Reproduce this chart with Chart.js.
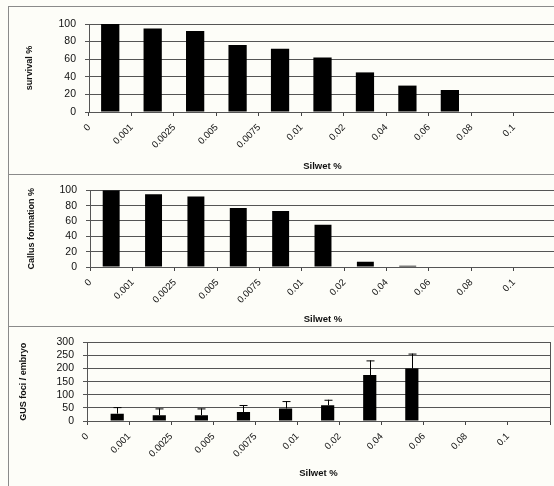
<!DOCTYPE html>
<html>
<head>
<meta charset="utf-8">
<script src="https://cdn.jsdelivr.net/npm/chart.js@4.4.1/dist/chart.umd.min.js"></script>
<style>
    html, body { margin: 0; padding: 0; background: #fdfdf8; overflow: hidden; width: 554px; height: 486px; }
    .panel { position: absolute; left: 8px; width: 600px; border-top: 1px solid #8a8a8a; border-left: 1px solid #8a8a8a; }
    .panel canvas { position: absolute; left: 0; top: 0; }
</style>
</head>
<body>
<div class="panel" style="top:6px;height:168px"><canvas id="survivalChart" width="560" height="167"></canvas></div>
<div class="panel" style="top:174px;height:152px"><canvas id="callusChart" width="560" height="151"></canvas></div>
<div class="panel" style="top:326px;height:160px"><canvas id="gusChart" width="560" height="159"></canvas></div>
<script>
// Datos
const silwet = ['0', '0.001', '0.0025', '0.005', '0.0075', '0.01', '0.02', '0.04', '0.06', '0.08', '0.1'];
const survival = [100, 95, 92, 76, 72, 62, 45, 30, 25];
const callus = [100, 95, 92, 77, 73, 55, 7, 1.5, 0];
const gusFoci = [28, 22, 22, 34, 48, 60, 175, 200];
const gusErr = [25, 26, 26, 27, 28, 21, 56, 57];

const FONT = "'Liberation Sans', Arial, sans-serif";

// Barras de error (solo hacia arriba)
const errorBars = {
    id: 'errorBars',
    afterDatasetsDraw(chart, args, opts) {
        if (!opts.errors) return;
        const meta = chart.getDatasetMeta(opts.datasetIndex);
        const ctx = chart.ctx;
        ctx.save();
        ctx.strokeStyle = '#000';
        ctx.lineWidth = 1;
        meta.data.forEach((bar, i) => {
            const v = chart.data.datasets[opts.datasetIndex].data[i];
            const top = chart.scales.y.getPixelForValue(v + opts.errors[i]);
            const x = Math.round(bar.x) + 0.5;
            ctx.beginPath();
            ctx.moveTo(x, bar.y);
            ctx.lineTo(x, top);
            ctx.moveTo(x - 4, top + 0.5);
            ctx.lineTo(x + 4, top + 0.5);
            ctx.stroke();
        });
        ctx.restore();
    }
};

// Borde del área de trazado
const plotBorder = {
    id: 'plotBorder',
    afterDraw(chart) {
        const a = chart.chartArea;
        const ctx = chart.ctx;
        ctx.save();
        ctx.strokeStyle = '#555';
        ctx.lineWidth = 1;
        ctx.strokeRect(Math.round(a.left) + 0.5, Math.round(a.top) + 0.5, Math.round(a.right - a.left), Math.round(a.bottom - a.top));
        ctx.restore();
    }
};

function makePanel(id, cfg) {
    const ctx = document.getElementById(id).getContext('2d');
    return new Chart(ctx, {
        type: 'bar',
        data: { labels: silwet, datasets: cfg.datasets },
        options: {
            responsive: false,
            animation: false,
            layout: { padding: cfg.padding },
            plugins: {
                legend: { display: false },
                tooltip: { enabled: false },
                errorBars: cfg.errorBars || {}
            },
            scales: {
                x: {
                    offset: true,
                    grid: { offset: true, drawOnChartArea: false, tickLength: 4, color: '#444' },
                    border: { color: '#555' },
                    ticks: {
                        autoSkip: false, minRotation: 45, maxRotation: 45,
                        labelOffset: cfg.labelOffset, padding: 6,
                        color: '#111', font: { family: FONT, size: 9.5 }
                    },
                    title: {
                        display: true, text: 'Silwet %', color: '#111',
                        padding: { top: 0, bottom: cfg.xTitlePad },
                        font: { family: FONT, size: 9.5, weight: 'bold' }
                    },
                    afterFit: s => { s.height = cfg.xHeight; }
                },
                y: {
                    min: 0, max: cfg.yMax,
                    grid: { color: '#555', tickLength: 4 },
                    border: { color: '#555' },
                    ticks: { autoSkip: false, stepSize: cfg.yStep, padding: 9, color: '#111', font: { family: FONT, size: 10.5 } },
                    title: {
                        display: true, text: cfg.yTitle, color: '#111',
                        padding: { top: cfg.yTitlePad, bottom: 0 },
                        font: { family: FONT, size: 9, weight: 'bold' }
                    },
                    afterFit: s => { s.width = cfg.yWidth; }
                }
            }
        },
        plugins: cfg.border ? [errorBars, plotBorder] : [errorBars]
    });
}

// Supervivencia
makePanel('survivalChart', {
    datasets: [{ data: survival, backgroundColor: '#000', barPercentage: 0.43, categoryPercentage: 1 }],
    padding: { top: 17, right: 13, bottom: 0, left: 0 },
    yMax: 100, yStep: 20, yTitle: 'survival %', yTitlePad: 15,
    yWidth: 80, xHeight: 62, xTitlePad: 2, labelOffset: -21
});

// Formación de callo
makePanel('callusChart', {
    datasets: [{ data: callus, backgroundColor: '#000', barPercentage: 0.4, categoryPercentage: 1 }],
    padding: { top: 14, right: 13, bottom: 0, left: 0 },
    yMax: 100, yStep: 20, yTitle: 'Callus formation %', yTitlePad: 17,
    yWidth: 81, xHeight: 59, xTitlePad: 1, labelOffset: -21
});

// Focos GUS por embrión (serie vacía delante, como en el original)
makePanel('gusChart', {
    datasets: [
        { data: [], backgroundColor: '#000', barPercentage: 0.72, categoryPercentage: 0.87 },
        { data: gusFoci, backgroundColor: '#000', barPercentage: 0.72, categoryPercentage: 0.87 }
    ],
    padding: { top: 15, right: 19, bottom: 0, left: 0 },
    yMax: 300, yStep: 50, yTitle: 'GUS foci / embryo', yTitlePad: 9,
    yWidth: 78, xHeight: 65, xTitlePad: 7, labelOffset: -21,
    errorBars: { datasetIndex: 1, errors: gusErr },
    border: true
});
</script>
</body>
</html>
